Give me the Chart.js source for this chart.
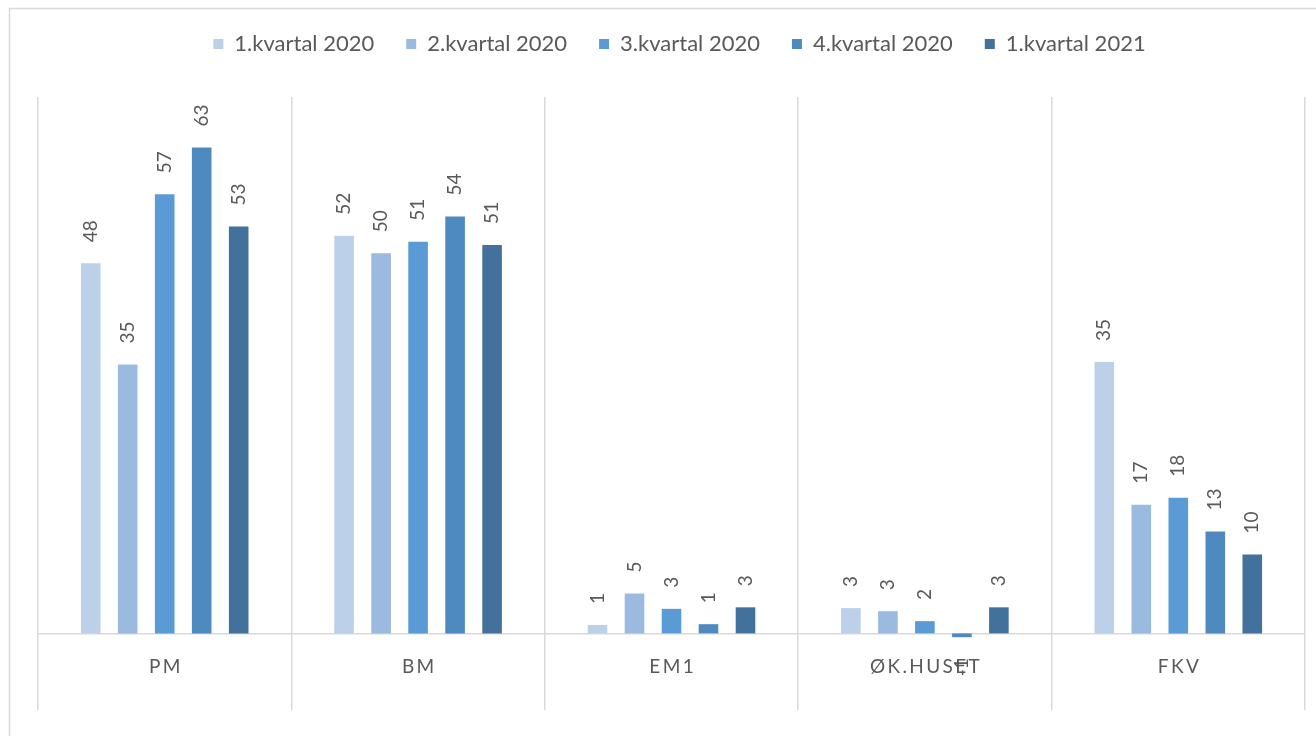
<!DOCTYPE html>
<html>
<head>
<meta charset="utf-8">
<script src="https://cdn.jsdelivr.net/npm/chart.js@4/dist/chart.umd.min.js"></script>
<style>
  html, body { margin: 0; padding: 0; background: #ffffff; }
  #wrap { width: 1316px; height: 736px; position: relative; }
</style>
</head>
<body>
<div id="wrap"><canvas id="c" width="1316" height="736"></canvas></div>
<script>
// ---- data ----
const categories = ['PM', 'BM', 'EM1', 'ØK.HUSET', 'FKV'];
const seriesNames = ['1.kvartal 2020', '2.kvartal 2020', '3.kvartal 2020', '4.kvartal 2020', '1.kvartal 2021'];
const q1_2020 = [48.3, 51.9, 1.1, 3.3, 35.4];
const q2_2020 = [35.1, 49.6, 5.2, 2.9, 16.8];
const q3_2020 = [57.3, 51.1, 3.2, 1.6, 17.7];
const q4_2020 = [63.4, 54.4, 1.2, -0.5, 13.3];
const q1_2021 = [53.1, 50.7, 3.4, 3.4, 10.3];
const seriesColors = ['#BDD0E9', '#9BBAE0', '#5B9BD5', '#4E8AC0', '#42719C'];
const yMin = -10;
const yMax = 70;

const allSeries = [q1_2020, q2_2020, q3_2020, q4_2020, q1_2021];

const FONT = 'Lato, "Open Sans", sans-serif';
const TEXT = '#595959';
const GRID = '#D9D9D9';

const frame = {
  id: 'frame',
  beforeLayout(chart) {
    const lg = chart.legend;
    if (lg && !lg._patched) {
      const origFit = lg.fit;
      lg.fit = function () {
        origFit.apply(this, arguments);
        this.height += 32;
      };
      const origDraw = lg.draw;
      lg.draw = function () {
        const ctx = this.ctx;
        ctx.save();
        ctx.translate(8, 0);
        origDraw.apply(this, arguments);
        ctx.restore();
      };
      lg._patched = true;
    }
  },
  beforeDraw(chart) {
    const ctx = chart.ctx;
    ctx.save();
    ctx.fillStyle = '#ffffff';
    ctx.fillRect(0, 0, chart.width, chart.height);
    ctx.strokeStyle = GRID;
    ctx.lineWidth = 1.5;
    ctx.strokeRect(9.5, 8.5, chart.width + 20, chart.height + 20);
    ctx.restore();
  }
};

const barLabels = {
  id: 'barLabels',
  afterDatasetsDraw(chart) {
    const ctx = chart.ctx;
    ctx.save();
    ctx.fillStyle = TEXT;
    ctx.font = '19px ' + FONT;
    ctx.textBaseline = 'middle';
    chart.data.datasets.forEach((ds, i) => {
      const meta = chart.getDatasetMeta(i);
      meta.data.forEach((el, j) => {
        const v = ds.data[j];
        const txt = v.toFixed(0);
        const gap = 21;
        ctx.save();
        if (v >= 0) {
          ctx.translate(el.x, el.y - gap);
          ctx.rotate(-Math.PI / 2);
          ctx.textAlign = 'left';
        } else {
          ctx.translate(el.x, el.y + gap);
          ctx.rotate(-Math.PI / 2);
          ctx.textAlign = 'right';
        }
        ctx.fillText(txt, 0, 0);
        ctx.restore();
      });
    });
    ctx.restore();
  }
};

new Chart(document.getElementById('c'), {
  type: 'bar',
  data: {
    labels: categories,
    datasets: allSeries.map((d, i) => ({
      label: seriesNames[i],
      data: d,
      backgroundColor: seriesColors[i],
      borderWidth: 0,
      categoryPercentage: 0.73,
      barPercentage: 0.53
    }))
  },
  options: {
    responsive: false,
    animation: false,
    layout: { padding: { left: 38, right: 11, top: 1, bottom: 26 } },
    plugins: {
      legend: {
        position: 'top',
        labels: {
          boxWidth: 10,
          boxHeight: 10,
          color: TEXT,
          font: { family: FONT, size: 22 },
          padding: 32
        }
      },
      tooltip: { enabled: false },
      title: { display: false }
    },
    scales: {
      x: {
        type: 'category',
        position: { y: 0 },
        offset: true,
        grid: { offset: true, color: GRID, lineWidth: 1.5, drawTicks: false },
        border: { display: true, color: GRID, width: 1.5 },
        ticks: {
          color: TEXT,
          font: { family: FONT, size: 19 },
          padding: 22,
          callback(value) {
            return this.getLabelForValue(value).split('').join('\u2009');
          }
        }
      },
      y: {
        display: false,
        min: yMin,
        max: yMax
      }
    }
  },
  plugins: [frame, barLabels]
});
</script>
</body>
</html>
